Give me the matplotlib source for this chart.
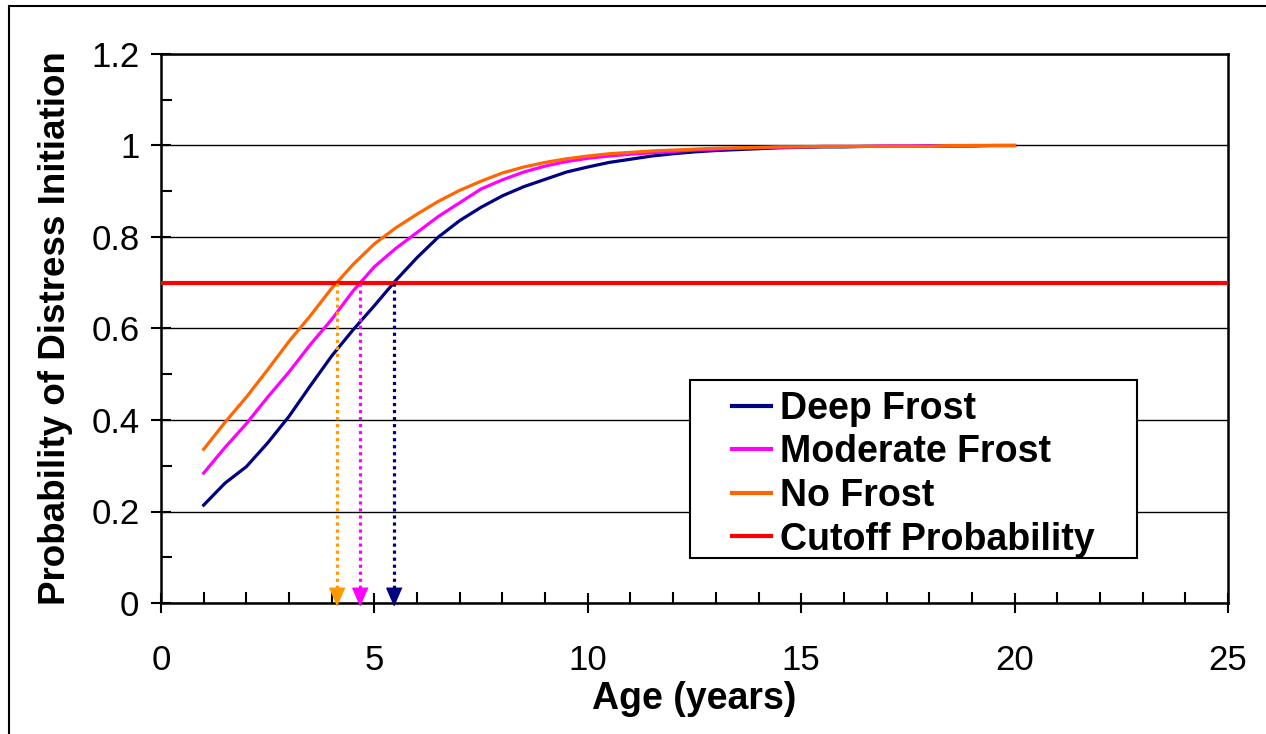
import matplotlib
matplotlib.use("Agg")
import matplotlib.pyplot as plt
from matplotlib.patches import Rectangle
from matplotlib.ticker import MultipleLocator

plt.rcParams["font.family"] = ["Liberation Sans", "DejaVu Sans"]

ages = [1.0, 1.5, 2.0, 2.5, 3.0, 3.5, 4.0, 4.5, 5.0, 5.5, 6.0, 6.5, 7.0, 7.5,
        8.0, 8.5, 9.0, 9.5, 10.0, 10.5, 11.0, 11.5, 12.0, 12.5, 13.0, 13.5,
        14.0, 14.5, 15.0, 15.5, 16.0, 16.5, 17.0, 17.5, 18.0, 18.5, 19.0,
        19.5, 20.0]

deep_frost = [0.214, 0.262, 0.298, 0.350, 0.408, 0.475, 0.540, 0.597, 0.650,
              0.705, 0.755, 0.800, 0.836, 0.865, 0.890, 0.910, 0.926, 0.942,
              0.953, 0.963, 0.970, 0.977, 0.982, 0.986, 0.989, 0.991, 0.993,
              0.995, 0.996, 0.997, 0.997, 0.998, 0.998, 0.998, 0.999, 0.999,
              0.999, 1.000, 1.000]

moderate_frost = [0.284, 0.340, 0.392, 0.450, 0.505, 0.565, 0.620, 0.682,
                  0.735, 0.775, 0.810, 0.845, 0.875, 0.905, 0.925, 0.942,
                  0.955, 0.965, 0.972, 0.977, 0.981, 0.984, 0.987, 0.990,
                  0.992, 0.994, 0.995, 0.996, 0.997, 0.998, 0.998, 0.998,
                  0.999, 0.999, 0.999, 0.999, 1.000, 1.000, 1.000]

no_frost = [0.336, 0.395, 0.450, 0.510, 0.572, 0.628, 0.688, 0.740, 0.785,
            0.820, 0.850, 0.878, 0.902, 0.922, 0.940, 0.953, 0.963, 0.971,
            0.977, 0.982, 0.985, 0.988, 0.990, 0.992, 0.994, 0.995, 0.996,
            0.997, 0.997, 0.998, 0.998, 0.998, 0.998, 0.998, 0.998, 1.000,
            1.000, 1.000, 1.000]

cutoff = 0.7
# age where each curve crosses the cutoff (no frost, moderate, deep)
cutoff_ages = [4.12, 4.66, 5.45]
arrow_colors = ["#FF9900", "#FF00FF", "#000080"]

W, H = 1266, 734
fig = plt.figure(figsize=(W / 100, H / 100), dpi=100)
ax = fig.add_axes([161 / W, 1 - 603 / H, (1228 - 161) / W, (603 - 54) / H])

ax.plot(ages, deep_frost, color="#000080", lw=2.3, label="Deep Frost", zorder=3)
ax.plot(ages, moderate_frost, color="#FF00FF", lw=2.3, label="Moderate Frost", zorder=3)
ax.plot(ages, no_frost, color="#FF6600", lw=2.3, label="No Frost", zorder=3)
ax.axhline(cutoff, color="#FF0000", lw=3, label="Cutoff Probability", zorder=4)

head = [(0, -0.15), (-0.5, 1), (0.5, 1)]
for a, c in zip(cutoff_ages, arrow_colors):
    ax.plot([a, a], [cutoff, 0.02], color=c, lw=2.3, ls=(0, (1, 1.2)),
            dash_capstyle="butt", zorder=5)
    ax.plot([a], [0], marker=head, ms=22, color=c, mec=c, ls="none",
            clip_on=False, zorder=6)

ax.set_xlim(0, 25)
ax.set_ylim(0, 1.2)
ax.xaxis.set_major_locator(MultipleLocator(5))
ax.xaxis.set_minor_locator(MultipleLocator(1))
ax.yaxis.set_major_locator(MultipleLocator(0.2))
ax.yaxis.set_minor_locator(MultipleLocator(0.1))
ax.yaxis.set_major_formatter(plt.FuncFormatter(lambda v, p: f"{v:g}"))

ax.grid(axis="y", which="major", color="black", lw=1.0)
ax.set_axisbelow(True)
for s in ax.spines.values():
    s.set_linewidth(1.8)

ax.tick_params(which="major", direction="inout", length=15, width=1.5,
               labelsize=25)
ax.tick_params(which="minor", direction="in", length=8, width=1.5)
ax.tick_params(axis="x", which="major", pad=22)
ax.tick_params(axis="y", which="major", pad=8)

ax.set_xlabel("Age (years)", fontsize=27, fontweight="bold", labelpad=3)
ax.set_ylabel("Probability of Distress Initiation", fontsize=26.5,
              fontweight="bold", labelpad=13)

# legend box drawn separately so the wide left margin of the original fits
ax.add_patch(Rectangle((690 / W, 1 - 558 / H), (1137 - 690) / W,
                       (558 - 380) / H, transform=fig.transFigure,
                       facecolor="white", edgecolor="black", lw=1.5,
                       clip_on=False, zorder=7))
leg = ax.legend(loc="upper left", bbox_to_anchor=(732 / W, 1 - 391 / H),
                bbox_transform=fig.transFigure,
                prop={"weight": "bold", "size": 27}, frameon=False,
                handlelength=1.05, handletextpad=0.22, labelspacing=0.2,
                borderpad=0, borderaxespad=0)
leg.set_zorder(10)
for ln in leg.get_lines():
    ln.set_linewidth(3)

# outer chart border (cropped on right and bottom)
fig.patches.append(Rectangle((9 / W, -0.1), 1.2, 1 - 6 / H + 0.1,
                             transform=fig.transFigure, fill=False,
                             edgecolor="black", lw=1.5))

fig.savefig("out.png", dpi=100)
